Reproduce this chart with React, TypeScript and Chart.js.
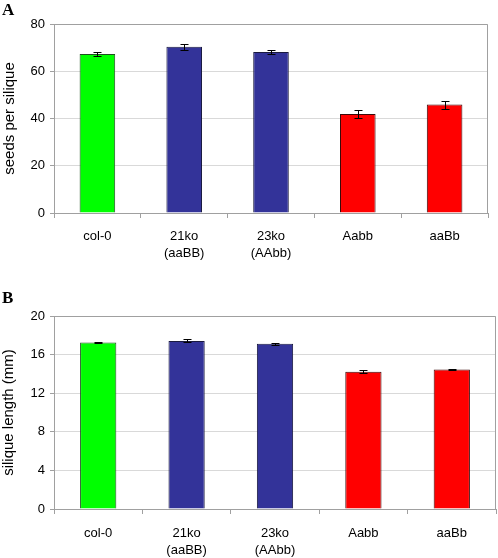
import React, { useEffect, useRef } from "react";
import { Chart, registerables } from "chart.js";

Chart.register(...registerables);

const categories: (string | string[])[] = ["col-0", ["21ko", "(aaBB)"], ["23ko", "(AAbb)"], "Aabb", "aaBb"];
const seedsValues = [67.3, 70.4, 68.1, 41.9, 45.9];
const seedsErrors = [1.0, 1.3, 1.0, 1.7, 1.7];
const lengthValues = [17.25, 17.42, 17.12, 14.22, 14.46];
const lengthErrors = [0.06, 0.15, 0.08, 0.15, 0.08];
const barColors = ["#00FF00", "#333399", "#333399", "#FF0000", "#FF0000"];
const barBorders = ["#1f4f1f", "#1a1a40", "#1a1a40", "#3a0a0a", "#3a0a0a"];
const seedsTicks = { min: 0, max: 80, step: 20 };
const lengthTicks = { min: 0, max: 20, step: 4 };

const frameAndErrors = {
  id: "frameAndErrors",
  beforeDatasetsDraw(chart: any) {
    const { ctx, chartArea } = chart;
    ctx.save();
    ctx.strokeStyle = "#a0a0a0";
    ctx.lineWidth = 1;
    ctx.beginPath();
    ctx.moveTo(chartArea.left, chartArea.top + 0.5);
    ctx.lineTo(chartArea.right - 0.5, chartArea.top + 0.5);
    ctx.lineTo(chartArea.right - 0.5, chartArea.bottom);
    ctx.stroke();
    ctx.restore();
  },
  afterDatasetsDraw(chart: any, _args: any, opts: any) {
    const { ctx } = chart;
    const errs: number[] = opts.errors || [];
    const meta = chart.getDatasetMeta(0);
    const ys = chart.scales.y;
    const vals = chart.data.datasets[0].data as number[];
    ctx.save();
    ctx.strokeStyle = "#000";
    ctx.lineWidth = 1;
    meta.data.forEach((bar: any, i: number) => {
      const x = Math.round(bar.x) + 0.5;
      const y1 = Math.round(ys.getPixelForValue(vals[i] + errs[i])) + 0.5;
      const y2 = Math.round(ys.getPixelForValue(vals[i] - errs[i])) + 0.5;
      ctx.beginPath();
      ctx.moveTo(x, y1);
      ctx.lineTo(x, y2);
      ctx.moveTo(x - 4, y1);
      ctx.lineTo(x + 4, y1);
      ctx.moveTo(x - 4, y2);
      ctx.lineTo(x + 4, y2);
      ctx.stroke();
    });
    ctx.restore();
  },
};

type PanelProps = {
  values: number[];
  errors: number[];
  ticks: { min: number; max: number; step: number };
  title: string;
  height: number;
  padTop: number;
  padRight: number;
  xHeight: number;
  titleSize: number;
  titlePad: number;
  labelPad: number;
};

function Panel(p: PanelProps) {
  const ref = useRef<HTMLCanvasElement | null>(null);
  useEffect(() => {
    if (!ref.current) return;
    const chart = new Chart(ref.current, {
      type: "bar",
      data: {
        labels: categories as any,
        datasets: [
          {
            data: p.values,
            backgroundColor: barColors,
            borderColor: barBorders,
            borderWidth: 1,
            categoryPercentage: 1,
            barPercentage: 0.41,
          },
        ],
      },
      options: {
        animation: false,
        responsive: false,
        maintainAspectRatio: false,
        layout: { padding: { top: p.padTop, right: p.padRight, left: 0, bottom: 0 } },
        plugins: {
          legend: { display: false },
          tooltip: { enabled: false },
          frameAndErrors: { errors: p.errors },
        } as any,
        scales: {
          x: {
            afterFit: (s: any) => {
              s.height = p.xHeight;
            },
            grid: {
              display: true,
              drawOnChartArea: false,
              offset: true,
              tickLength: 5,
              color: "#a0a0a0",
              tickColor: "#a0a0a0",
            },
            border: { color: "#a0a0a0", width: 1 },
            ticks: {
              color: "#000",
              font: { family: "'Liberation Sans', Arial, sans-serif", size: 13, lineHeight: 1.3 },
              padding: p.labelPad,
              maxRotation: 0,
              autoSkip: false,
            },
          },
          y: {
            min: p.ticks.min,
            max: p.ticks.max,
            afterFit: (s: any) => {
              s.width = 54;
            },
            grid: {
              color: "#d9d9d9",
              tickColor: "#a0a0a0",
              tickLength: 4,
            },
            border: { color: "#a0a0a0", width: 1 },
            ticks: {
              stepSize: p.ticks.step,
              color: "#000",
              padding: 5,
              font: { family: "'Liberation Sans', Arial, sans-serif", size: 13 },
            },
            title: {
              display: true,
              text: p.title,
              color: "#000",
              font: { family: "'Liberation Sans', Arial, sans-serif", size: p.titleSize, weight: "normal" },
              padding: { top: p.titlePad, bottom: 0 },
            },
          },
        },
      },
      plugins: [frameAndErrors],
    });
    return () => chart.destroy();
  }, []);
  return <canvas ref={ref} width={498} height={p.height} style={{ display: "block", width: 498, height: p.height }} />;
}

const letterStyle: React.CSSProperties = {
  position: "absolute",
  fontFamily: "'Liberation Serif', 'Times New Roman', serif",
  fontWeight: "bold",
  fontSize: 17,
  lineHeight: "17px",
  color: "#000",
};

export default function App() {
  return (
    <div style={{ position: "absolute", left: 0, top: 0, width: 498, height: 558, background: "#fff", overflow: "hidden" }}>
      <div style={{ position: "absolute", left: 0, top: 0 }}>
        <Panel
          values={seedsValues}
          errors={seedsErrors}
          ticks={seedsTicks}
          title="seeds per silique"
          height={275}
          padTop={24}
          padRight={10}
          xHeight={62}
          titleSize={15}
          titlePad={1}
          labelPad={10}
        />
      </div>
      <div style={{ position: "absolute", left: 0, top: 280 }}>
        <Panel
          values={lengthValues}
          errors={lengthErrors}
          ticks={lengthTicks}
          title="silique length (mm)"
          height={278}
          padTop={36}
          padRight={2}
          xHeight={49}
          titleSize={15}
          titlePad={0}
          labelPad={11}
        />
      </div>
      <div style={{ ...letterStyle, left: 2, top: 1 }}>A</div>
      <div style={{ ...letterStyle, left: 2, top: 289 }}>B</div>
    </div>
  );
}
